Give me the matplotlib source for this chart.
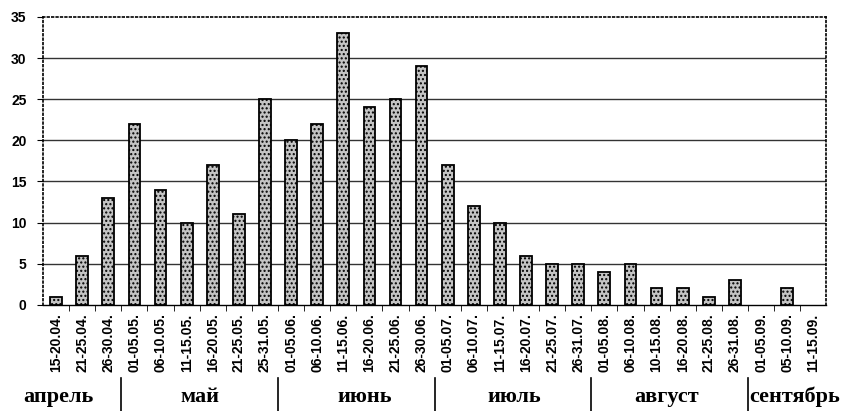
import matplotlib

matplotlib.use("Agg")
import matplotlib.pyplot as plt
import numpy as np

periods = [
    "15-20.04.", "21-25.04.", "26-30.04.", "01-05.05.", "06-10.05.",
    "11-15.05.", "16-20.05.", "21-25.05.", "25-31.05.", "01-05.06.",
    "06-10.06.", "11-15.06.", "16-20.06.", "21-25.06.", "26-30.06.",
    "01-05.07.", "06-10.07.", "11-15.07.", "16-20.07.", "21-25.07.",
    "26-31.07.", "01-05.08.", "06-10.08.", "10-15.08.", "16-20.08.",
    "21-25.08.", "26-31.08.", "01-05.09.", "05-10.09.", "11-15.09.",
]
counts = [1, 6, 13, 22, 14, 10, 17, 11, 25, 20,
          22, 33, 24, 25, 29, 17, 12, 10, 6, 5,
          5, 4, 5, 2, 2, 1, 3, 0, 2, 0]
months = ["апрель", "май", "июнь", "июль", "август", "сентябрь"]
month_sizes = [3, 6, 6, 6, 6, 3]
# label centres as placed in the original (not exactly mid-group)
month_pos = [0.1, 5.5, 11.8, 17.55, 23.4, 28.3]

fig = plt.figure(figsize=(8.44, 4.11), dpi=100)
ax = fig.add_axes([0.051, 0.258, 0.928, 0.701])

x = np.arange(len(periods))
# empty periods get no outline at all
lws = [1.3 if c > 0 else 0 for c in counts]
ax.bar(x, counts, width=0.45, color="#c4c4c4", edgecolor="black",
       linewidth=lws, hatch="....", zorder=3)

ax.set_xlim(-0.5, len(periods) - 0.5)
ax.set_ylim(0, 35)
ax.set_yticks(range(0, 36, 5))
ax.tick_params(axis="y", labelsize=10, length=4, direction="out", pad=8)
for lab in ax.get_yticklabels():
    lab.set_fontfamily("Liberation Sans")
    lab.set_fontweight("bold")

ax.set_xticks(x)
ax.set_xticklabels(periods, rotation=90, fontsize=10,
                   family="Liberation Sans", fontweight="bold")
ax.tick_params(axis="x", length=0, pad=6)
ax.set_xticks(x[:-1] + 0.5, minor=True)
ax.tick_params(axis="x", which="minor", length=4, direction="out")

for y in range(5, 35, 5):
    ax.axhline(y, color="#333333", lw=1.0, zorder=1)

for side in ["top", "left", "right"]:
    ax.spines[side].set_linestyle(":")
    ax.spines[side].set_linewidth(1.2)
ax.spines["bottom"].set_linewidth(1.0)

# month groups under the date labels
trans = ax.get_xaxis_transform()
edges = np.cumsum(month_sizes)[:-1] - 0.5
for e in edges:
    ax.plot([e, e], [-0.255, -0.37], transform=trans, color="black",
            lw=1.2, clip_on=False)
for name, pos in zip(months, month_pos):
    ax.text(pos, -0.318, name, transform=trans, ha="center", va="center",
            fontsize=16, family="Liberation Serif", fontweight="bold")

fig.savefig("out.png", dpi=100)
